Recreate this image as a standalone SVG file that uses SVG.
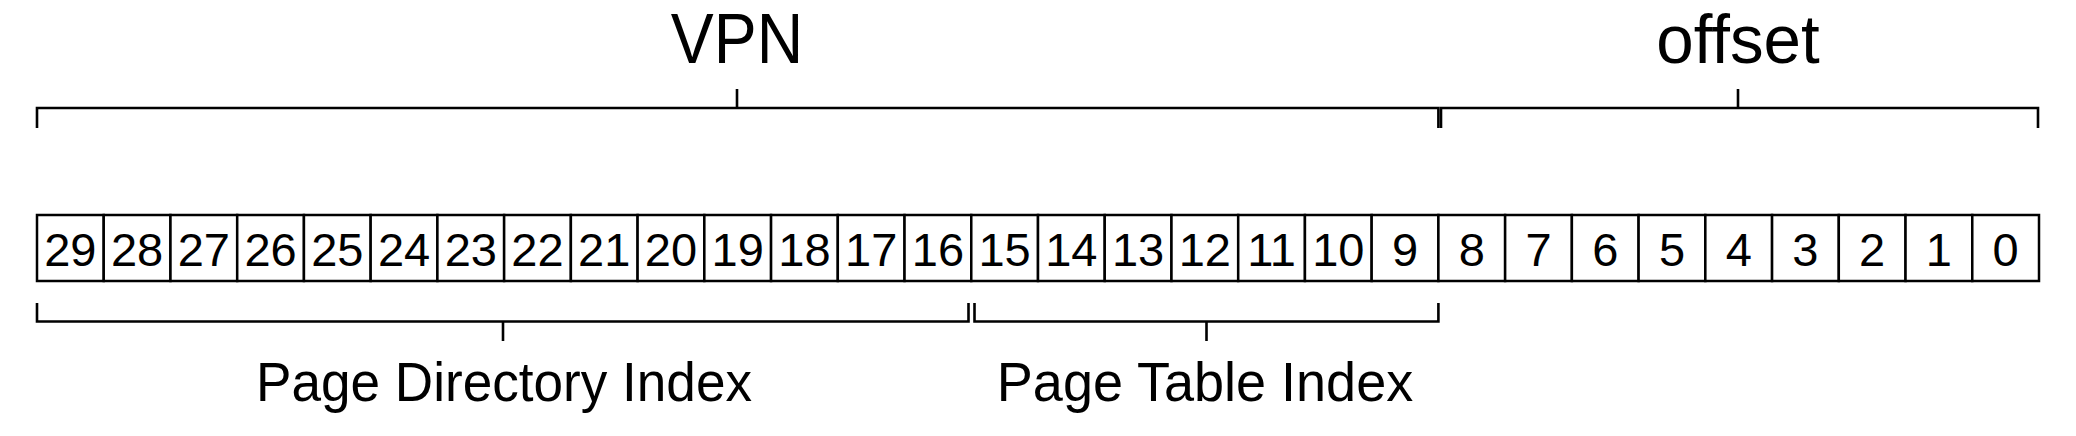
<svg xmlns="http://www.w3.org/2000/svg" width="2076" height="436" viewBox="0 0 2076 436">
<style>
.cell{fill:#fff;stroke:#000;stroke-width:2.5}
.num{font-family:"Liberation Sans",Arial,sans-serif;font-size:47px;fill:#000;text-anchor:middle}
.lbl{font-family:"Liberation Sans",Arial,sans-serif;fill:#000;text-anchor:middle}
.br{fill:none;stroke:#000;stroke-width:2.6;stroke-linecap:butt;stroke-linejoin:miter}
</style>
<rect width="2076" height="436" fill="#fff"/>
<g id="labels">
<text id="vpn" class="lbl" x="0" y="63" font-size="70" transform="translate(737,0) scale(0.92,1)">VPN</text>
<text id="offset" class="lbl" x="0" y="63" font-size="69" transform="translate(1738,0) scale(0.975,1)">offset</text>
<text id="pdi" class="lbl" x="0" y="401" font-size="55" transform="translate(504,0) scale(0.966,1)">Page Directory Index</text>
<text id="pti" class="lbl" x="0" y="401" font-size="55" transform="translate(1205,0) scale(0.982,1)">Page Table Index</text>
</g>
<g id="connectors">
<path class="br" d="M37,128 V108 H1438.4 V128"/>
<path class="br" d="M737,108 V89"/>
<path class="br" d="M1441,128 V108 H2038 V128"/>
<path class="br" d="M1738,108 V89"/>
<path class="br" d="M37,303 V321.5 H968.5 V303"/>
<path class="br" d="M503,321.5 V341"/>
<path class="br" d="M974.5,303 V321.5 H1438.4 V303"/>
<path class="br" d="M1206.5,321.5 V341"/>
</g>
<g id="bit29"><rect class="cell" x="37" y="215" width="66.73" height="66"/><text class="num" x="70.37" y="265.5">29</text></g>
<g id="bit28"><rect class="cell" x="103.73" y="215" width="66.73" height="66"/><text class="num" x="137.10" y="265.5">28</text></g>
<g id="bit27"><rect class="cell" x="170.47" y="215" width="66.73" height="66"/><text class="num" x="203.83" y="265.5">27</text></g>
<g id="bit26"><rect class="cell" x="237.20" y="215" width="66.73" height="66"/><text class="num" x="270.57" y="265.5">26</text></g>
<g id="bit25"><rect class="cell" x="303.93" y="215" width="66.73" height="66"/><text class="num" x="337.30" y="265.5">25</text></g>
<g id="bit24"><rect class="cell" x="370.67" y="215" width="66.73" height="66"/><text class="num" x="404.03" y="265.5">24</text></g>
<g id="bit23"><rect class="cell" x="437.40" y="215" width="66.73" height="66"/><text class="num" x="470.77" y="265.5">23</text></g>
<g id="bit22"><rect class="cell" x="504.13" y="215" width="66.73" height="66"/><text class="num" x="537.50" y="265.5">22</text></g>
<g id="bit21"><rect class="cell" x="570.87" y="215" width="66.73" height="66"/><text class="num" x="604.23" y="265.5">21</text></g>
<g id="bit20"><rect class="cell" x="637.60" y="215" width="66.73" height="66"/><text class="num" x="670.97" y="265.5">20</text></g>
<g id="bit19"><rect class="cell" x="704.33" y="215" width="66.73" height="66"/><text class="num" x="737.70" y="265.5">19</text></g>
<g id="bit18"><rect class="cell" x="771.07" y="215" width="66.73" height="66"/><text class="num" x="804.43" y="265.5">18</text></g>
<g id="bit17"><rect class="cell" x="837.80" y="215" width="66.73" height="66"/><text class="num" x="871.17" y="265.5">17</text></g>
<g id="bit16"><rect class="cell" x="904.53" y="215" width="66.73" height="66"/><text class="num" x="937.90" y="265.5">16</text></g>
<g id="bit15"><rect class="cell" x="971.27" y="215" width="66.73" height="66"/><text class="num" x="1004.63" y="265.5">15</text></g>
<g id="bit14"><rect class="cell" x="1038.00" y="215" width="66.73" height="66"/><text class="num" x="1071.37" y="265.5">14</text></g>
<g id="bit13"><rect class="cell" x="1104.73" y="215" width="66.73" height="66"/><text class="num" x="1138.10" y="265.5">13</text></g>
<g id="bit12"><rect class="cell" x="1171.47" y="215" width="66.73" height="66"/><text class="num" x="1204.83" y="265.5">12</text></g>
<g id="bit11"><rect class="cell" x="1238.20" y="215" width="66.73" height="66"/><text class="num" x="1271.57" y="265.5">11</text></g>
<g id="bit10"><rect class="cell" x="1304.93" y="215" width="66.73" height="66"/><text class="num" x="1338.30" y="265.5">10</text></g>
<g id="bit9"><rect class="cell" x="1371.67" y="215" width="66.73" height="66"/><text class="num" x="1405.03" y="265.5">9</text></g>
<g id="bit8"><rect class="cell" x="1438.40" y="215" width="66.73" height="66"/><text class="num" x="1471.77" y="265.5">8</text></g>
<g id="bit7"><rect class="cell" x="1505.13" y="215" width="66.73" height="66"/><text class="num" x="1538.50" y="265.5">7</text></g>
<g id="bit6"><rect class="cell" x="1571.87" y="215" width="66.73" height="66"/><text class="num" x="1605.23" y="265.5">6</text></g>
<g id="bit5"><rect class="cell" x="1638.60" y="215" width="66.73" height="66"/><text class="num" x="1671.97" y="265.5">5</text></g>
<g id="bit4"><rect class="cell" x="1705.33" y="215" width="66.73" height="66"/><text class="num" x="1738.70" y="265.5">4</text></g>
<g id="bit3"><rect class="cell" x="1772.07" y="215" width="66.73" height="66"/><text class="num" x="1805.43" y="265.5">3</text></g>
<g id="bit2"><rect class="cell" x="1838.80" y="215" width="66.73" height="66"/><text class="num" x="1872.17" y="265.5">2</text></g>
<g id="bit1"><rect class="cell" x="1905.53" y="215" width="66.73" height="66"/><text class="num" x="1938.90" y="265.5">1</text></g>
<g id="bit0"><rect class="cell" x="1972.27" y="215" width="66.73" height="66"/><text class="num" x="2005.63" y="265.5">0</text></g>
</svg>
